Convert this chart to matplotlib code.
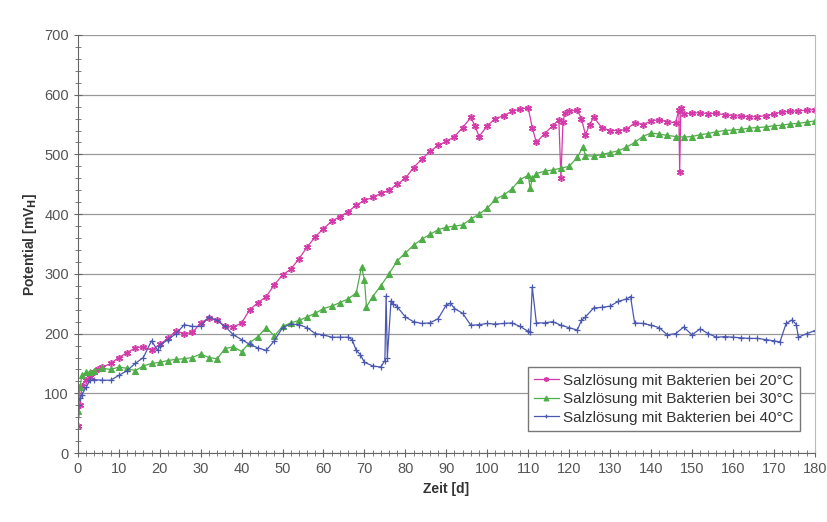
import matplotlib.pyplot as plt
from matplotlib.ticker import MultipleLocator

plt.rcParams['font.family'] = ['Liberation Sans', 'DejaVu Sans']

# Salzlösung mit Bakterien bei 20 °C
tage_20 = [0, 0.5, 1, 2, 3, 4, 5, 6, 8, 10, 12, 14, 16, 18, 20, 22, 24, 26, 28, 30,
           32, 34, 36, 38, 40, 42, 44, 46, 48, 50, 52, 54, 56, 58, 60, 62, 64, 66, 68, 70,
           72, 74, 76, 78, 80, 82, 84, 86, 88, 90, 92, 94, 96, 97, 98, 100, 102, 104, 106, 108,
           110, 111, 112, 114, 116, 117.5, 118, 118.5, 119, 120, 122, 123, 124, 125, 126, 128,
           130, 132, 134, 136, 138, 140, 142, 144, 146, 146.8, 147, 147.3, 148, 150, 152, 154,
           156, 158, 160, 162, 164, 166, 168, 170, 172, 174, 176, 178, 180]
pot_20 = [45, 80, 112, 122, 128, 135, 140, 144, 150, 160, 168, 176, 178, 172, 182, 192, 205, 200, 202, 218,
          226, 222, 212, 211, 218, 240, 252, 262, 282, 298, 308, 325, 345, 362, 376, 388, 396, 404, 415, 423,
          428, 435, 440, 450, 460, 478, 492, 505, 515, 522, 530, 545, 562, 548, 530, 548, 560, 565, 572, 576,
          578, 545, 520, 535, 548, 558, 460, 555, 570, 572, 574, 560, 533, 550, 562, 545,
          540, 540, 542, 553, 550, 556, 558, 555, 553, 575, 471, 578, 568, 569, 570, 568,
          569, 566, 565, 564, 563, 563, 565, 568, 571, 572, 573, 574, 575]

# Salzlösung mit Bakterien bei 30 °C
tage_30 = [0, 0.5, 1, 2, 3, 4, 6, 8, 10, 12, 14, 16, 18, 20, 22, 24, 26, 28, 30, 32,
           34, 36, 38, 40, 42, 44, 46, 48, 50, 52, 54, 56, 58, 60, 62, 64, 66, 68, 69.3, 70,
           70.5, 72, 74, 76, 78, 80, 82, 84, 86, 88, 90, 92, 94, 96, 98, 100, 102, 104, 106, 108,
           110, 110.5, 111, 112, 114, 116, 118, 120, 122, 123.4, 124, 126, 128, 130, 132, 134,
           136, 138, 140, 142, 144, 146, 148, 150, 152, 154, 156, 158, 160, 162, 164, 166, 168,
           170, 172, 174, 176, 178, 180]
pot_30 = [70, 110, 130, 135, 136, 138, 142, 140, 144, 142, 138, 146, 150, 152, 155, 157, 158, 160, 166, 160,
          158, 175, 178, 170, 185, 195, 210, 196, 212, 218, 222, 228, 234, 242, 246, 252, 258, 268, 312, 290,
          245, 262, 280, 300, 322, 335, 348, 358, 366, 374, 378, 380, 382, 392, 400, 410, 425, 432, 442, 458,
          465, 443, 460, 468, 472, 474, 477, 480, 495, 513, 498, 497, 500, 503, 506, 512,
          520, 530, 536, 534, 532, 530, 529, 530, 533, 535, 538, 540, 541, 542, 544, 545, 546,
          548, 549, 551, 552, 554, 556]

# Salzlösung mit Bakterien bei 40 °C
tage_40 = [0, 0.5, 1, 2, 3, 4, 6, 8, 10, 12, 14, 16, 18, 19.5, 20, 22, 24, 26, 28, 30,
           32, 34, 36, 38, 40, 42, 44, 46, 48, 50, 52, 54, 56, 58, 60, 62, 64, 66, 67, 68,
           69, 70, 72, 74, 75, 75.3, 75.6, 76.5, 77, 78, 80, 82, 84, 86, 88, 90, 91, 92, 94, 96,
           98, 100, 102, 104, 106, 108, 110, 110.5, 111, 112, 114, 116, 118, 120, 122, 123, 124,
           126, 128, 130, 132, 134, 135, 136, 138, 140, 142, 144, 146, 148, 150, 152, 154, 156,
           158, 160, 162, 164, 166, 168, 170, 171.5, 173, 174.5, 175.5, 176, 178, 180]
pot_40 = [80, 92, 98, 110, 122, 123, 122, 122, 130, 138, 150, 160, 188, 172, 180, 190, 200, 215, 212, 212,
          228, 222, 212, 198, 190, 182, 176, 172, 188, 210, 216, 215, 210, 200, 198, 194, 194, 194, 190, 172,
          165, 152, 146, 144, 155, 263, 160, 255, 250, 245, 228, 220, 217, 218, 225, 248, 251, 242, 234, 214,
          215, 217, 216, 217, 218, 212, 204, 202, 278, 218, 218, 220, 214, 210, 206, 222, 228,
          243, 244, 246, 254, 258, 262, 218, 217, 214, 210, 198, 200, 211, 198, 208, 200, 194, 195,
          194, 193, 192, 192, 190, 188, 186, 217, 223, 215, 194, 200, 205]

labels = ["Salzlösung mit Bakterien bei 20°C",
          "Salzlösung mit Bakterien bei 30°C",
          "Salzlösung mit Bakterien bei 40°C"]

fig = plt.figure(figsize=(8.28, 5.22), dpi=100)
ax = fig.add_axes([0.094, 0.132, 0.890, 0.801])

ax.plot(tage_20, pot_20, color="#d43aaa", lw=0.9, marker=(6, 2, 0), ms=5, mew=1.1, label=labels[0])
ax.plot(tage_30, pot_30, color="#4fae48", lw=0.9, marker="^", ms=4, mew=0.8, label=labels[1])
ax.plot(tage_40, pot_40, color="#4a58b0", lw=0.9, marker="+", ms=5, mew=0.9, label=labels[2])

ax.set_xlim(0, 180)
ax.set_ylim(0, 700)
ax.xaxis.set_major_locator(MultipleLocator(10))
ax.xaxis.set_minor_locator(MultipleLocator(2))
ax.yaxis.set_major_locator(MultipleLocator(100))
ax.yaxis.set_minor_locator(MultipleLocator(20))
ax.tick_params(which="both", direction="inout", colors="#666666", labelcolor="#555555", labelsize=10.5)
ax.tick_params(which="major", length=6)
ax.tick_params(which="minor", length=4)

ax.grid(axis="y", color="#999999", lw=0.9)
ax.set_axisbelow(True)
for side in ["left", "bottom"]:
    ax.spines[side].set_color("#666666")
ax.spines["right"].set_color("#bbbbbb")
ax.spines["top"].set_visible(False)

ax.set_xlabel("Zeit [d]", fontweight="bold", fontsize=10, color="#333333")
ax.set_ylabel("Potential [mV$_\\mathbf{H}$]", fontweight="bold", fontsize=10, color="#333333")

leg = ax.legend(loc="lower right", bbox_to_anchor=(0.99, 0.035), fontsize=11, fancybox=False,
                framealpha=1, edgecolor="#777777", handlelength=1.6, handletextpad=0.3,
                borderpad=0.4, labelspacing=0.3)
for text in leg.get_texts():
    text.set_color("#333333")
for h in leg.legend_handles:
    h.set_markersize(3.5)

fig.savefig("out.png")
